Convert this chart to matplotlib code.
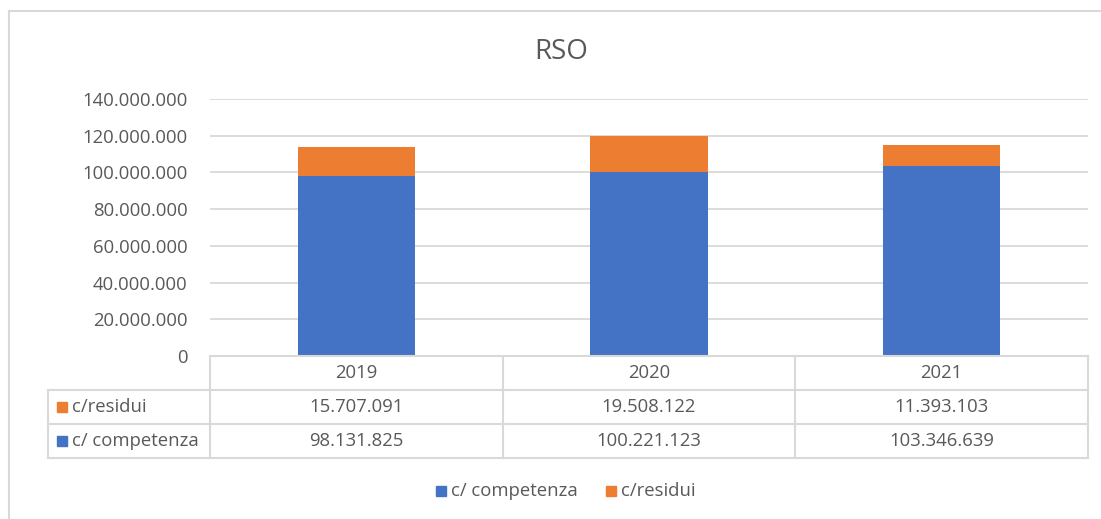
import matplotlib
matplotlib.use("Agg")
import matplotlib.pyplot as plt
from matplotlib.lines import Line2D
from matplotlib.patches import Rectangle
import matplotlib.transforms as mtransforms

title = "RSO"
years = ["2019", "2020", "2021"]
competenza = [98131825, 100221123, 103346639]
residui = [15707091, 19508122, 11393103]
competenza_label = "c/ competenza"
residui_label = "c/residui"
yticks = [0, 20000000, 40000000, 60000000, 80000000, 100000000, 120000000, 140000000]

BLUE = "#4472C4"
ORANGE = "#ED7D31"
TXT = "#595959"
GRID = "#D9D9D9"
FONT = "Open Sans"
FS = 13.3

W, H = 1101, 519
fig = plt.figure(figsize=(W / 100, H / 100), dpi=100)
fig.patch.set_facecolor("white")


def fx(px):
    return px / W


def fy(py):
    return 1 - py / H


def fmt(v):
    return f"{v:,.0f}".replace(",", ".")


# outer chart border (top & left visible)
fig.add_artist(Line2D([fx(9), fx(W + 5)], [fy(11), fy(11)], color=GRID, lw=1.5))
fig.add_artist(Line2D([fx(9), fx(9)], [fy(11), fy(H + 5)], color=GRID, lw=1.5))

# plot area
x0, x1, ytop, ybot = 210, 1088, 99, 356
ax = fig.add_axes([fx(x0), fy(ybot), fx(x1) - fx(x0), fy(ytop) - fy(ybot)])
ax.set_facecolor("none")
xs = list(range(len(years)))
ax.bar(xs, competenza, width=0.4, color=BLUE, label=competenza_label, zorder=3)
ax.bar(xs, residui, width=0.4, bottom=competenza, color=ORANGE, label=residui_label, zorder=3)
ax.set_xlim(-0.5, len(years) - 0.5)
ax.set_ylim(0, 140000000)
ax.set_yticks(yticks)
ax.set_yticklabels([fmt(v) for v in yticks], fontsize=FS, color=TXT, family=FONT)
ax.tick_params(axis="y", length=0, pad=16)
ax.set_xticks([])
ax.grid(axis="y", color=GRID, lw=1.3, zorder=0)
for s in ax.spines.values():
    s.set_visible(False)

fig.text(fx(561), fy(52), title, ha="center", va="center", fontsize=20, color=TXT, family=FONT)

# data table
trans = mtransforms.blended_transform_factory(ax.transData, fig.transFigure)
rows_y = [356, 390, 424, 458]
tl_left = 48
fig.add_artist(Line2D([fx(x0), fx(x1)], [fy(356), fy(356)], color=GRID, lw=1.5))
for yy in rows_y[1:]:
    fig.add_artist(Line2D([fx(tl_left), fx(x1)], [fy(yy), fy(yy)], color=GRID, lw=1.5))
fig.add_artist(Line2D([fx(tl_left), fx(tl_left)], [fy(390), fy(458)], color=GRID, lw=1.5))
for i in range(len(years) + 1):
    xx = x0 + (x1 - x0) * i / len(years)
    fig.add_artist(Line2D([fx(xx), fx(xx)], [fy(356), fy(458)], color=GRID, lw=1.5))

for i, yr in enumerate(years):
    fig.text(i, fy(373), yr, transform=trans, ha="center", va="center", fontsize=FS, color=TXT, family=FONT)
    fig.text(i, fy(407), fmt(residui[i]), transform=trans, ha="center", va="center", fontsize=FS, color=TXT, family=FONT)
    fig.text(i, fy(441), fmt(competenza[i]), transform=trans, ha="center", va="center", fontsize=FS, color=TXT, family=FONT)

for yc, lab, col in [(407, residui_label, ORANGE), (441, competenza_label, BLUE)]:
    fig.add_artist(Rectangle((fx(57), fy(yc + 5)), fx(10), fy(yc - 5) - fy(yc + 5), color=col))
    fig.text(fx(72), fy(yc), lab, ha="left", va="center", fontsize=FS, color=TXT, family=FONT)

# legend
for xk, lab, col in [(436, competenza_label, BLUE), (606, residui_label, ORANGE)]:
    fig.add_artist(Rectangle((fx(xk), fy(496)), fx(10), fy(486) - fy(496), color=col))
    fig.text(fx(xk + 15), fy(491), lab, ha="left", va="center", fontsize=FS, color=TXT, family=FONT)

fig.savefig("out.png", dpi=100, facecolor="white")
